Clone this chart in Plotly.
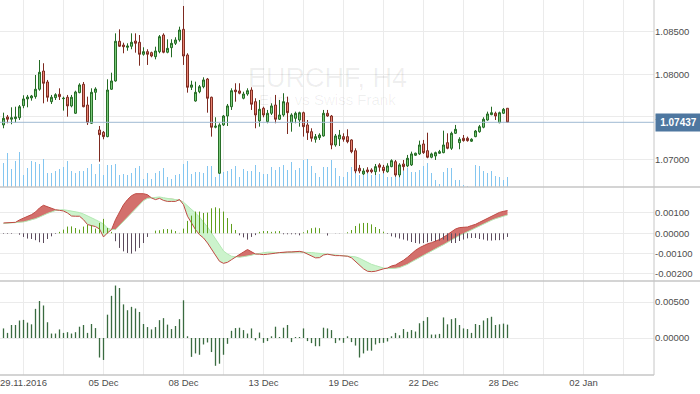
import numpy as np
import plotly.graph_objects as go

# ---------------- data (EURCHF, H4) ----------------
x_labels = ["29.11.2016", "", "05 Dec", "", "08 Dec", "", "13 Dec", "", "19 Dec", "",
            "22 Dec", "", "28 Dec", "", "02 Jan", ""]
x_label_pos = list(range(5, 160, 10))

opens = [1.07406,1.07500,1.07473,1.07480,1.07491,1.07632,1.07711,1.07723,1.07738,1.07825,
 1.08039,1.07910,1.07679,1.07726,1.07766,1.07714,1.07731,1.07629,1.07543,1.07785,
 1.07883,1.07640,1.07426,1.07789,1.07347,1.07320,1.07269,1.07825,1.07922,1.08388,
 1.08344,1.08317,1.08329,1.08391,1.08376,1.08235,1.08266,1.08254,1.08207,1.08266,
 1.08461,1.08259,1.08313,1.08364,1.08403,1.08528,1.08227,1.07848,1.07687,1.07796,
 1.07855,1.07945,1.07731,1.07379,1.06839,1.07406,1.07511,1.07620,1.07816,1.07805,
 1.07719,1.07769,1.07816,1.07679,1.07453,1.07602,1.07445,1.07543,1.07640,1.07473,
 1.07523,1.07667,1.07433,1.07484,1.07464,1.07550,1.07406,1.07327,1.07238,1.07257,
 1.07277,1.07543,1.07511,1.07171,1.07242,1.07269,1.07269,1.07230,1.07104,1.06898,
 1.06831,1.06878,1.06878,1.06858,1.06937,1.06910,1.06858,1.06917,1.06975,1.06819,
 1.06948,1.06925,1.06937,1.07050,1.07066,1.07183,1.07104,1.07027,1.07042,1.07074,
 1.07081,1.07198,1.07132,1.07308,1.07198,1.07250,1.07250,1.07215,1.07269,1.07327,
 1.07379,1.07464,1.07527,1.07543,1.07433,1.07543,1.07602]
highs = [1.07550,1.07523,1.07613,1.07620,1.07640,1.07754,1.07758,1.07758,1.07992,1.08168,
 1.08130,1.07934,1.07758,1.07778,1.07836,1.07738,1.07758,1.07758,1.07808,1.07895,
 1.07910,1.07738,1.07836,1.07848,1.07394,1.07335,1.07942,1.08019,1.08481,1.08528,
 1.08371,1.08364,1.08481,1.08481,1.08461,1.08317,1.08294,1.08266,1.08324,1.08461,
 1.08481,1.08411,1.08411,1.08435,1.08559,1.08802,1.08247,1.07925,1.07914,1.07875,
 1.07965,1.07957,1.07738,1.07496,1.07426,1.07523,1.07652,1.07836,1.07895,1.07895,
 1.07796,1.07836,1.07848,1.07719,1.07699,1.07620,1.07582,1.07660,1.07758,1.07699,
 1.07778,1.07738,1.07543,1.07562,1.07562,1.07562,1.07464,1.07367,1.07300,1.07308,
 1.07582,1.07582,1.07523,1.07300,1.07347,1.07308,1.07355,1.07238,1.07132,1.06937,
 1.06898,1.06910,1.06898,1.06948,1.06957,1.06937,1.06957,1.07003,1.06995,1.06957,
 1.06995,1.07054,1.07093,1.07081,1.07222,1.07230,1.07315,1.07081,1.07093,1.07113,
 1.07339,1.07308,1.07327,1.07406,1.07262,1.07288,1.07269,1.07250,1.07347,1.07406,
 1.07496,1.07562,1.07620,1.07562,1.07562,1.07605,1.07602]
lows = [1.07367,1.07426,1.07414,1.07433,1.07464,1.07602,1.07613,1.07691,1.07714,1.07808,
 1.07660,1.07679,1.07652,1.07699,1.07699,1.07574,1.07503,1.07613,1.07535,1.07778,
 1.07613,1.07406,1.07418,1.07699,1.06975,1.07238,1.07262,1.07816,1.07914,1.08324,
 1.08247,1.08277,1.08294,1.08254,1.08101,1.08219,1.08110,1.08200,1.08176,1.08247,
 1.08247,1.08247,1.08200,1.08344,1.08383,1.08110,1.07785,1.07816,1.07679,1.07778,
 1.07836,1.07550,1.07269,1.07367,1.06831,1.07394,1.07394,1.07582,1.07679,1.07766,
 1.07707,1.07749,1.07582,1.07367,1.07386,1.07496,1.07426,1.07523,1.07426,1.07464,
 1.07503,1.07300,1.07327,1.07426,1.07386,1.07269,1.07230,1.07210,1.07198,1.07230,
 1.07269,1.07503,1.07121,1.07151,1.07159,1.07210,1.07191,1.07074,1.06839,1.06839,
 1.06819,1.06839,1.06839,1.06819,1.06858,1.06839,1.06846,1.06910,1.06799,1.06792,
 1.06870,1.06910,1.06925,1.07042,1.07054,1.07066,1.07015,1.07015,1.06995,1.07066,
 1.07074,1.07121,1.07113,1.07300,1.07121,1.07210,1.07210,1.07206,1.07262,1.07315,
 1.07367,1.07456,1.07520,1.07464,1.07426,1.07535,1.07433]
closes = [1.07484,1.07473,1.07491,1.07500,1.07620,1.07711,1.07734,1.07746,1.07825,1.08024,
 1.07895,1.07731,1.07731,1.07761,1.07738,1.07719,1.07629,1.07731,1.07793,1.07875,
 1.07620,1.07433,1.07789,1.07828,1.07292,1.07269,1.07816,1.07922,1.08388,1.08329,
 1.08324,1.08332,1.08376,1.08364,1.08235,1.08266,1.08235,1.08215,1.08274,1.08442,
 1.08259,1.08305,1.08364,1.08403,1.08520,1.08215,1.07848,1.07875,1.07789,1.07855,
 1.07934,1.07719,1.07379,1.07391,1.07406,1.07511,1.07629,1.07808,1.07796,1.07778,
 1.07769,1.07808,1.07649,1.07523,1.07590,1.07523,1.07543,1.07629,1.07473,1.07523,
 1.07679,1.07550,1.07523,1.07543,1.07550,1.07386,1.07315,1.07250,1.07269,1.07288,
 1.07543,1.07511,1.07171,1.07277,1.07288,1.07238,1.07210,1.07093,1.06866,1.06866,
 1.06866,1.06858,1.06858,1.06917,1.06910,1.06870,1.06925,1.06987,1.06819,1.06937,
 1.06917,1.07015,1.07066,1.07074,1.07171,1.07081,1.07027,1.07066,1.07081,1.07093,
 1.07171,1.07132,1.07308,1.07355,1.07238,1.07222,1.07222,1.07238,1.07335,1.07386,
 1.07473,1.07535,1.07550,1.07511,1.07550,1.07590,1.07437]
volume = [24,34,18,26,35,12,19,26,25,23,28,14,14,16,18,20,26,16,14,16,
 16,19,23,13,23,12,22,22,23,12,13,12,14,19,21,8,14,8,14,16,
 19,10,8,12,13,23,26,13,15,15,14,21,21,10,13,15,16,18,21,10,
 18,16,16,22,15,13,13,20,17,20,22,17,25,17,19,27,28,21,14,10,
 20,20,27,19,11,10,15,20,15,12,12,14,12,13,13,14,10,10,17,13,
 16,19,15,15,17,21,24,14,7,3,15,19,19,7,7,2,1,0,22,21,
 16,14,16,11,10,7,10]
# MACD values in points (1 point = 0.00001)
macd_pts = [51,52,54,54,66,74,82,92,105,125,138,131,123,116,113,110,100,85,84,84,
 67,43,38,33,21,-18,2,18,67,108,141,166,185,195,194,195,190,174,166,172,
 162,157,157,157,166,141,84,51,18,-7,-23,-48,-80,-113,-138,-148,-143,-130,-116,-102,
 -92,-80,-92,-102,-103,-105,-103,-102,-98,-95,-92,-92,-92,-92,-89,-93,-103,-113,-121,-120,
 -107,-103,-107,-110,-110,-110,-113,-121,-139,-159,-175,-187,-189,-187,-180,-175,-171,-161,-156,-146,
 -133,-118,-100,-84,-71,-61,-52,-46,-39,-31,-20,-7,8,21,28,31,31,38,44,54,
 64,74,85,97,103,108,112]
signal_pts = [48,49,51,51,54,56,61,66,72,80,90,98,105,112,115,116,113,110,107,102,
 95,87,77,67,57,46,26,18,18,38,59,80,100,120,141,161,172,175,177,179,
 175,172,169,166,162,153,136,120,100,80,57,31,2,-28,-57,-87,-102,-113,-116,-118,
 -115,-112,-108,-102,-98,-95,-93,-93,-95,-97,-97,-95,-93,-93,-93,-93,-93,-95,-97,-100,
 -102,-103,-105,-107,-108,-108,-110,-113,-116,-123,-133,-144,-153,-159,-166,-171,-174,-174,-172,-169,
 -161,-153,-141,-130,-118,-107,-95,-85,-75,-66,-56,-44,-33,-21,-11,-2,8,16,26,36,
 44,54,64,72,79,84,90]
osma_pts = [-3,-3,-3,0,-7,-18,-26,-28,-34,-44,-48,-28,-15,-3,7,18,33,34,26,18,
 33,41,39,23,51,71,26,7,-39,-72,-89,-97,-100,-89,-72,-48,-18,0,13,15,
 20,21,18,11,2,23,61,87,107,107,100,102,123,128,123,107,75,46,16,-10,
 -20,-31,-18,-9,7,11,11,7,10,11,-5,-5,-5,-5,-10,5,15,25,28,25,
 0,-11,0,-1,-1,0,5,16,36,48,51,51,44,31,21,8,-3,-15,-20,-26,
 -31,-36,-43,-48,-51,-48,-44,-39,-39,-36,-31,-36,-48,-48,-38,-31,-25,-23,-23,-28,
 -31,-36,-36,-34,-34,-31,-18]
momentum_pts = [133,71,181,181,243,252,214,190,405,514,452,219,62,62,119,71,81,62,81,157,
 181,71,195,138,-271,-305,324,586,729,695,467,386,433,410,362,195,152,119,152,248,
 276,186,124,167,262,524,24,-262,-214,-233,-90,-62,-195,-386,-357,-233,-81,100,138,143,
 110,62,133,-33,76,-67,-43,24,157,14,143,181,-57,14,14,133,-43,-71,-114,-114,
 143,133,110,-71,-33,-67,24,-57,-105,-271,-214,-176,-176,-90,-71,-67,-48,24,71,38,
 124,86,110,90,205,238,290,48,48,57,286,190,262,276,181,133,124,71,195,181,
 243,276,295,181,190,200,186]
price_ticks = [1.070, 1.075, 1.080, 1.085]
macd_ticks = [0.001, 0.0, -0.001, -0.002]
mom_ticks = [0.005, 0.0]
last_price = closes[-1]

# ---------------- derived ----------------
idx = list(range(len(closes)))
POINT = 1e-5
macd = np.array(macd_pts) * POINT
sig = np.array(signal_pts) * POINT
osma = np.array(osma_pts) * POINT
mom = np.array(momentum_pts) * POINT
upper = np.maximum(macd, sig)


def stems(values, keep=lambda v: True):
    """vertical segments from 0 to each value (x, y lists with gaps)"""
    xs, ys = [], []
    for i, v in zip(idx, values):
        if keep(v):
            xs += [i, i, None]
            ys += [0, v, None]
    return xs, ys


GRID = "#ebebeb"
AX = "#c6c6c6"
TXT = "#4d4d4d"
FONT = "Liberation Sans, Arial, sans-serif"

D1 = 1 - 187 / 375
D2 = 94 / 375

fig = go.Figure()

# volume (base axis of main panel)
vx, vy = stems(volume)
fig.add_trace(go.Scatter(x=vx, y=vy, mode="lines", line=dict(color="#84c6f0", width=1),
                         xaxis="x", yaxis="y", hoverinfo="skip"))
# candles
fig.add_trace(go.Candlestick(
    x=idx, open=opens, high=highs, low=lows, close=closes,
    increasing=dict(line=dict(color="#246b24", width=1), fillcolor="#7fcf7f"),
    decreasing=dict(line=dict(color="#7d2a20", width=1), fillcolor="#ef8a78"),
    whiskerwidth=0, xaxis="x", yaxis="y2", hoverinfo="skip"))

# MACD fills
fig.add_trace(go.Scatter(x=idx, y=sig, mode="lines", line=dict(width=0), xaxis="x2", yaxis="y3", hoverinfo="skip"))
fig.add_trace(go.Scatter(x=idx, y=upper, mode="lines", line=dict(width=0), fill="tonexty",
                         fillcolor="#d3706c", xaxis="x2", yaxis="y3", hoverinfo="skip"))
fig.add_trace(go.Scatter(x=idx, y=macd, mode="lines", line=dict(width=0), xaxis="x2", yaxis="y3", hoverinfo="skip"))
fig.add_trace(go.Scatter(x=idx, y=upper, mode="lines", line=dict(width=0), fill="tonexty",
                         fillcolor="#ccf3cc", xaxis="x2", yaxis="y3", hoverinfo="skip"))
fig.add_trace(go.Scatter(x=idx, y=sig, mode="lines", line=dict(width=1, color="#b3e9b3"),
                         xaxis="x2", yaxis="y3", hoverinfo="skip"))
fig.add_trace(go.Scatter(x=idx, y=macd, mode="lines", line=dict(width=1, color="#bf4a44"),
                         xaxis="x2", yaxis="y3", hoverinfo="skip"))
# OsMA histogram (overlay axis so it is drawn above the fills)
px_, py_ = stems(osma, lambda v: v > 0)
nx_, ny_ = stems(osma, lambda v: v < 0)
fig.add_trace(go.Scatter(x=px_, y=py_, mode="lines", line=dict(color="#5f9f1c", width=1),
                         xaxis="x2", yaxis="y5", hoverinfo="skip"))
fig.add_trace(go.Scatter(x=nx_, y=ny_, mode="lines", line=dict(color="#5b4b5d", width=1),
                         xaxis="x2", yaxis="y5", hoverinfo="skip"))
# momentum
mx, my = stems(mom)
fig.add_trace(go.Scatter(x=mx, y=my, mode="lines", line=dict(color="#3a6b40", width=1.3),
                         xaxis="x3", yaxis="y4", hoverinfo="skip"))

xrange = [-0.875, 162.625]
macd_range = [-0.00235, 0.00228]
common_x = dict(range=xrange, showgrid=True, gridcolor=GRID, gridwidth=1, zeroline=False,
                tickmode="array", tickvals=x_label_pos, showline=False, ticks="", fixedrange=True)

fig.update_layout(
    width=700, height=394,
    margin=dict(l=0, r=46, t=0, b=19),
    paper_bgcolor="white", plot_bgcolor="white",
    showlegend=False, hovermode=False,
    font=dict(family=FONT, size=9.5, color=TXT),
    xaxis=dict(**common_x, anchor="y", showticklabels=False, rangeslider=dict(visible=False)),
    xaxis2=dict(**common_x, anchor="y3", matches="x", showticklabels=False),
    xaxis3=dict(**common_x, anchor="y4", matches="x", ticktext=x_labels, showticklabels=True),
    yaxis=dict(domain=[D1, 1], range=[0, 187], visible=False, fixedrange=True),
    yaxis2=dict(overlaying="y", side="right", anchor="x", range=[1.06678, 1.08872],
                tickmode="array", tickvals=price_ticks, ticktext=[f"{v:.5f}" for v in price_ticks],
                showgrid=True, gridcolor=GRID, zeroline=False, ticks="", fixedrange=True),
    yaxis3=dict(domain=[D2, D1], anchor="x2", side="right", range=macd_range,
                tickmode="array", tickvals=macd_ticks, ticktext=[f"{v:.5f}" for v in macd_ticks],
                showgrid=True, gridcolor=GRID, zeroline=False, ticks="", fixedrange=True),
    yaxis5=dict(overlaying="y3", anchor="x2", range=macd_range, visible=False, fixedrange=True),
    yaxis4=dict(domain=[0, D2], anchor="x3", side="right", range=[-0.00514, 0.00792],
                tickmode="array", tickvals=mom_ticks, ticktext=[f"{v:.5f}" for v in mom_ticks],
                showgrid=True, gridcolor=GRID, zeroline=False, ticks="", fixedrange=True),
)

# frame / separators / last price line
shapes = [
    dict(type="line", xref="paper", yref="paper", x0=1, x1=1, y0=0, y1=1, line=dict(color=AX, width=1)),
    dict(type="line", xref="paper", yref="paper", x0=0, x1=700 / 654, y0=D1, y1=D1, line=dict(color=AX, width=1.5)),
    dict(type="line", xref="paper", yref="paper", x0=0, x1=700 / 654, y0=D2, y1=D2, line=dict(color=AX, width=1.5)),
    dict(type="line", xref="paper", yref="paper", x0=0, x1=1, y0=0, y1=0, line=dict(color=AX, width=1.5)),
    dict(type="line", xref="paper", yref="y2", x0=0, x1=1, y0=last_price, y1=last_price,
         line=dict(color="#9fb9d3", width=1)),
]
fig.update_layout(shapes=shapes)

fig.add_annotation(x=0.5, y=(375 - 77.5) / 375, xref="paper", yref="paper", text="EURCHF, H4",
                   xanchor="center", yanchor="middle",
                   showarrow=False, font=dict(family=FONT, size=27, color="rgba(0,0,0,0.065)"))
fig.add_annotation(x=0.5, y=(375 - 99) / 375, xref="paper", yref="paper", text="Euro vs Swiss Frank",
                   xanchor="center", yanchor="middle",
                   showarrow=False, font=dict(family=FONT, size=15, color="rgba(0,0,0,0.065)"))
fig.add_annotation(x=1, y=last_price, xref="paper", yref="y2", text=f"<b>{last_price:.5f}</b>",
                   xanchor="left", yanchor="middle", xshift=1, showarrow=False,
                   bgcolor="#4e77a0", borderpad=2, width=41, height=13,
                   font=dict(family=FONT, size=10, color="white"))

fig.write_html("out.html", config={"displayModeBar": False, "staticPlot": True},
               post_script="document.body.style.margin='0';document.body.style.overflow='hidden';")
